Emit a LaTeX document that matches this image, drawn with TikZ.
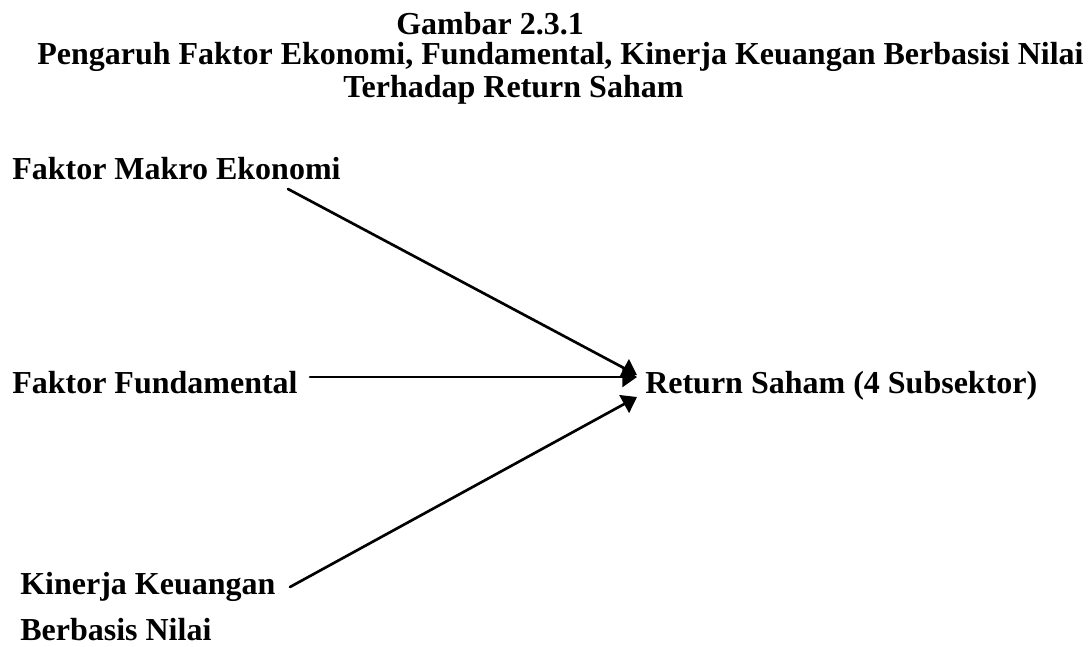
\documentclass[tikz,border=0pt]{standalone}
\usepackage{fontspec}
\setmainfont{Liberation Serif}
\usetikzlibrary{arrows.meta}

\tikzset{
  teks/.style={anchor=base west,inner sep=0pt,font=\fontsize{24}{34}\selectfont\bfseries},
  panah/.style={-{Triangle[length=11pt,width=15pt]},line width=2pt}
}

\begin{document}
\begin{tikzpicture}[line cap=round,line join=round,x=0.75pt,y=-0.75pt]
\useasboundingbox (0.,0.) rectangle (1091.,646.);
\node [teks] (judul1) at (396.,34.) {Gambar 2.3.1};
\node [teks] (judul2) at (37.,64.) {Pengaruh Faktor Ekonomi, Fundamental, Kinerja Keuangan Berbasisi Nilai};
\node [teks] (judul3) at (343.,97.) {Terhadap Return Saham};
\node [teks] (makro) at (12.,179.) {Faktor Makro Ekonomi};
\node [teks] (fundamental) at (12.,393.) {Faktor Fundamental};
\node [teks,align=left] (kinerja) at (20.,640.) {Kinerja Keuangan\\Berbasis Nilai};
\node [teks] (return) at (645.,393.) {Return Saham (4 Subsektor)};
\coordinate (makro-ujung) at (288.,189.);
\coordinate (fundamental-ujung) at (310.,377.);
\coordinate (kinerja-ujung) at (290.,587.);
\coordinate (return-atas) at (637.,375.);
\coordinate (return-tengah) at (637.,377.);
\coordinate (return-bawah) at (637.,397.);
\draw [panah] (makro-ujung) -- (return-atas);
\draw [panah] (fundamental-ujung) -- (return-tengah);
\draw [panah] (kinerja-ujung) -- (return-bawah);
\end{tikzpicture}
\end{document}
